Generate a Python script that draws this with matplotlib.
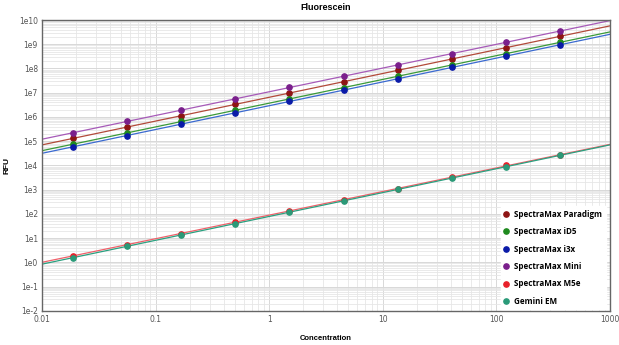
import numpy as np
import matplotlib
matplotlib.use('Agg')
import matplotlib.pyplot as plt
from matplotlib.ticker import LogLocator, FixedLocator, FixedFormatter

# concentrations (3-fold serial dilution)
conc = np.array([0.0186, 0.0558, 0.167, 0.502, 1.51, 4.52, 13.6, 40.7, 122, 366])

# RFU
paradigm = np.array([1.3e5, 3.8e5, 1.1e6, 3.3e6, 9.8e6, 2.9e7, 8.3e7, 2.5e8, 7.2e8, 2.1e9])
id5 = np.array([7.4e4, 2.2e5, 6.5e5, 1.9e6, 5.5e6, 1.6e7, 4.8e7, 1.4e8, 4.1e8, 1.2e9])
i3x = np.array([5.8e4, 1.7e5, 5.0e5, 1.5e6, 4.4e6, 1.3e7, 3.7e7, 1.1e8, 3.2e8, 9.6e8])
mini = np.array([2.2e5, 6.5e5, 1.9e6, 5.6e6, 1.65e7, 4.8e7, 1.4e8, 4.1e8, 1.2e9, 3.5e9])
m5e = np.array([1.9, 5.4, 15.5, 45, 130, 380, 1100, 3200, 1.05e4, 2.7e4])
gemini = np.array([1.55, 4.6, 13.5, 40, 117, 347, 1020, 3000, 8.9e3, 2.6e4])

names = ['SpectraMax Paradigm', 'SpectraMax iD5', 'SpectraMax i3x',
         'SpectraMax Mini', 'SpectraMax M5e', 'Gemini EM']
series = [paradigm, id5, i3x, mini, m5e, gemini]
dot_colors = ['#8e1414', '#1f8a1f', '#0a1aa8', '#7a1f8c', '#e8202a', '#2a9a78']
line_colors = ['#b24a3a', '#3a9a3a', '#3a6ad0', '#a65ab8', '#f0606a', '#2aa080']

xtick_vals = [0.01, 0.1, 1, 10, 100, 1000]
xtick_labels = ['0.01', '0.1', '1', '10', '100', '1000']
ytick_vals = [10.0**k for k in range(-2, 11)]
ytick_labels = ['1e%d' % k for k in range(-2, 11)]

fig = plt.figure(figsize=(6.19, 3.45), dpi=100)
ax = fig.add_axes([0.068, 0.099, 0.917, 0.843])
ax.set_xscale('log')
ax.set_yscale('log')

xfit = np.array([0.01, 1000])
for y, name, dc, lc in zip(series, names, dot_colors, line_colors):
    p = np.polyfit(np.log10(conc), np.log10(y), 1)
    ax.plot(xfit, 10**np.polyval(p, np.log10(xfit)), color=lc, lw=0.9, zorder=2)
    ax.plot(conc, y, 'o', color=dc, ms=3.8, label=name, zorder=3)

ax.set_xlim(0.01, 1000)
ax.set_ylim(1e-2, 1e10)
ax.xaxis.set_major_locator(FixedLocator(xtick_vals))
ax.xaxis.set_major_formatter(FixedFormatter(xtick_labels))
ax.yaxis.set_major_locator(FixedLocator(ytick_vals))
ax.yaxis.set_major_formatter(FixedFormatter(ytick_labels))
ax.xaxis.set_minor_locator(LogLocator(base=10, subs=np.arange(2, 10), numticks=20))
ax.yaxis.set_minor_locator(LogLocator(base=10, subs=np.arange(2, 10), numticks=30))
ax.xaxis.set_minor_formatter(plt.NullFormatter())
ax.yaxis.set_minor_formatter(plt.NullFormatter())

ax.grid(True, which='major', color='#d8d8d8', lw=0.7)
ax.grid(True, which='minor', color='#e6e6e6', lw=0.6)
ax.set_axisbelow(True)
ax.tick_params(which='both', length=0, labelsize=5.5, labelcolor='#555555', pad=3)
for s in ax.spines.values():
    s.set_color('#666666')
    s.set_linewidth(1.0)

ax.set_title('Fluorescein', fontsize=6.5, fontweight='bold', pad=7,
             family='Liberation Sans')
ax.set_xlabel('Concentration', fontsize=5.5, fontweight='bold', labelpad=8,
              family='Liberation Sans')
ax.set_ylabel('RFU', fontsize=6, fontweight='bold', family='Liberation Sans')
ax.yaxis.set_label_coords(-0.055, 0.5)

leg = ax.legend(loc='lower right', bbox_to_anchor=(1.0, -0.008), frameon=True,
                fancybox=False, framealpha=1, edgecolor='white', handlelength=0.6,
                handletextpad=0.7, labelspacing=1.05, borderpad=0.4,
                prop={'family': 'Open Sans', 'weight': 'bold', 'size': 5.8})

fig.savefig('out.png', dpi=100)
